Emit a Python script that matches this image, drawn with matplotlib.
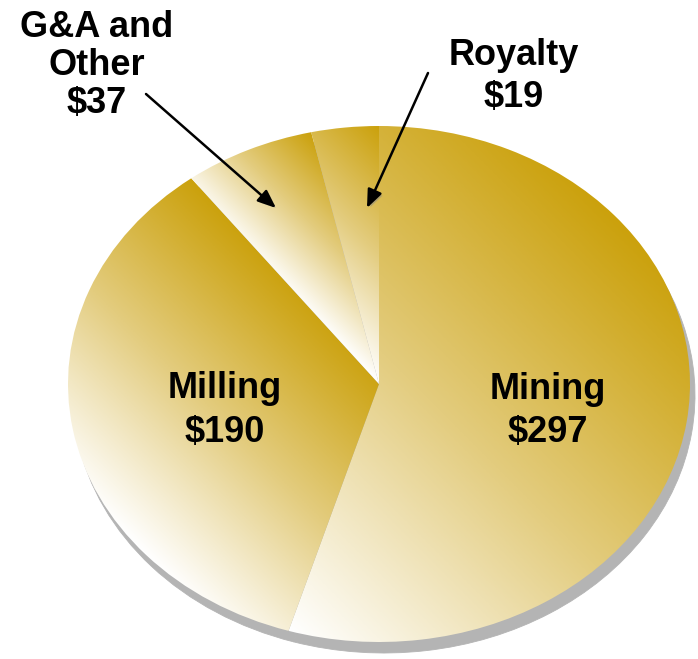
import numpy as np
import matplotlib
matplotlib.use("Agg")
import matplotlib.pyplot as plt
from matplotlib.colors import LinearSegmentedColormap
from matplotlib.patches import FancyArrowPatch
import matplotlib.patheffects as pe

# ---- data ----
categories = ["Mining", "Milling", "G&A and\nOther", "Royalty"]
values = [297, 190, 37, 19]
value_labels = ["$297", "$190", "$37", "$19"]

# ---- layout (pixels) ----
W, H = 698, 659
RX, RY = 311.0, 258.0      # ellipse radii in px
CX, CY = 379.0, 384.0      # ellipse centre in px (from top-left)

fig = plt.figure(figsize=(W / 100, H / 100), dpi=100)
ax = fig.add_axes([0, 0, 1, 1])

# shadow
shadow_dx, shadow_dy = 5, 11
ax.pie(values, startangle=90, counterclock=False,
       colors=["#b4b4b4"] * len(values),
       center=(shadow_dx / RX, -shadow_dy / RY),
       wedgeprops=dict(linewidth=0.6, edgecolor="#b4b4b4"))
wedges, _ = ax.pie(values, startangle=90, counterclock=False,
                   colors=["none"] * len(values),
                   wedgeprops=dict(linewidth=0))

gold = LinearSegmentedColormap.from_list(
    "gold", [(0.0, "#ffffff"), (0.5, "#e3cc7e"), (1.0, "#cba10c")])

for w in wedges:
    th = np.radians(np.linspace(w.theta1, w.theta2, 300))
    cx, cy = w.center
    px = np.concatenate([[cx], cx + w.r * np.cos(th)])
    py = np.concatenate([[cy], cy + w.r * np.sin(th)])
    proj = px * RX + py * RY
    pmin, pmax = proj.min(), proj.max()
    x0, x1, y0, y1 = px.min(), px.max(), py.min(), py.max()
    n = 400
    gx, gy = np.meshgrid(np.linspace(x0, x1, n), np.linspace(y0, y1, n))
    t = np.clip((gx * RX + gy * RY - pmin) / (pmax - pmin), 0, 1)
    im = ax.imshow(t, cmap=gold, vmin=0, vmax=1, extent=(x0, x1, y0, y1),
                   origin="lower", aspect="auto", interpolation="bilinear",
                   zorder=2)
    im.set_clip_path(w)

ax.set_aspect("auto")
ax.set_xlim(-CX / RX, (W - CX) / RX)
ax.set_ylim(-(H - CY) / RY, CY / RY)
ax.axis("off")

# ---- labels ----
label_pos = [(548, 399, 43), (225, 398, 44), (97, 37, 38), (514, 65, 42)]
for cat, vl, (x, yb, step) in zip(categories, value_labels, label_pos):
    lines = cat.split("\n") + [vl]
    for i, line in enumerate(lines):
        fig.text(x / W, 1 - (yb + i * step) / H, line, ha="center",
                 va="baseline", fontsize=26, fontweight="bold",
                 family="Liberation Sans", color="black")

# ---- arrows ----
arrows = [((146, 94), (276, 208)), ((428, 73), (367, 208))]
for (sx, sy), (tx, ty) in arrows:
    a = FancyArrowPatch((sx / W, 1 - sy / H), (tx / W, 1 - ty / H),
                        transform=fig.transFigure,
                        arrowstyle="-|>,head_length=1.1,head_width=0.45",
                        mutation_scale=10, lw=1.8, color="black",
                        shrinkA=0, shrinkB=0,
                        path_effects=[pe.SimplePatchShadow(offset=(1.5, -1.5),
                                                           shadow_rgbFace="#888888",
                                                           alpha=0.5),
                                      pe.Normal()])
    fig.add_artist(a)

fig.savefig("out.png", dpi=100)
